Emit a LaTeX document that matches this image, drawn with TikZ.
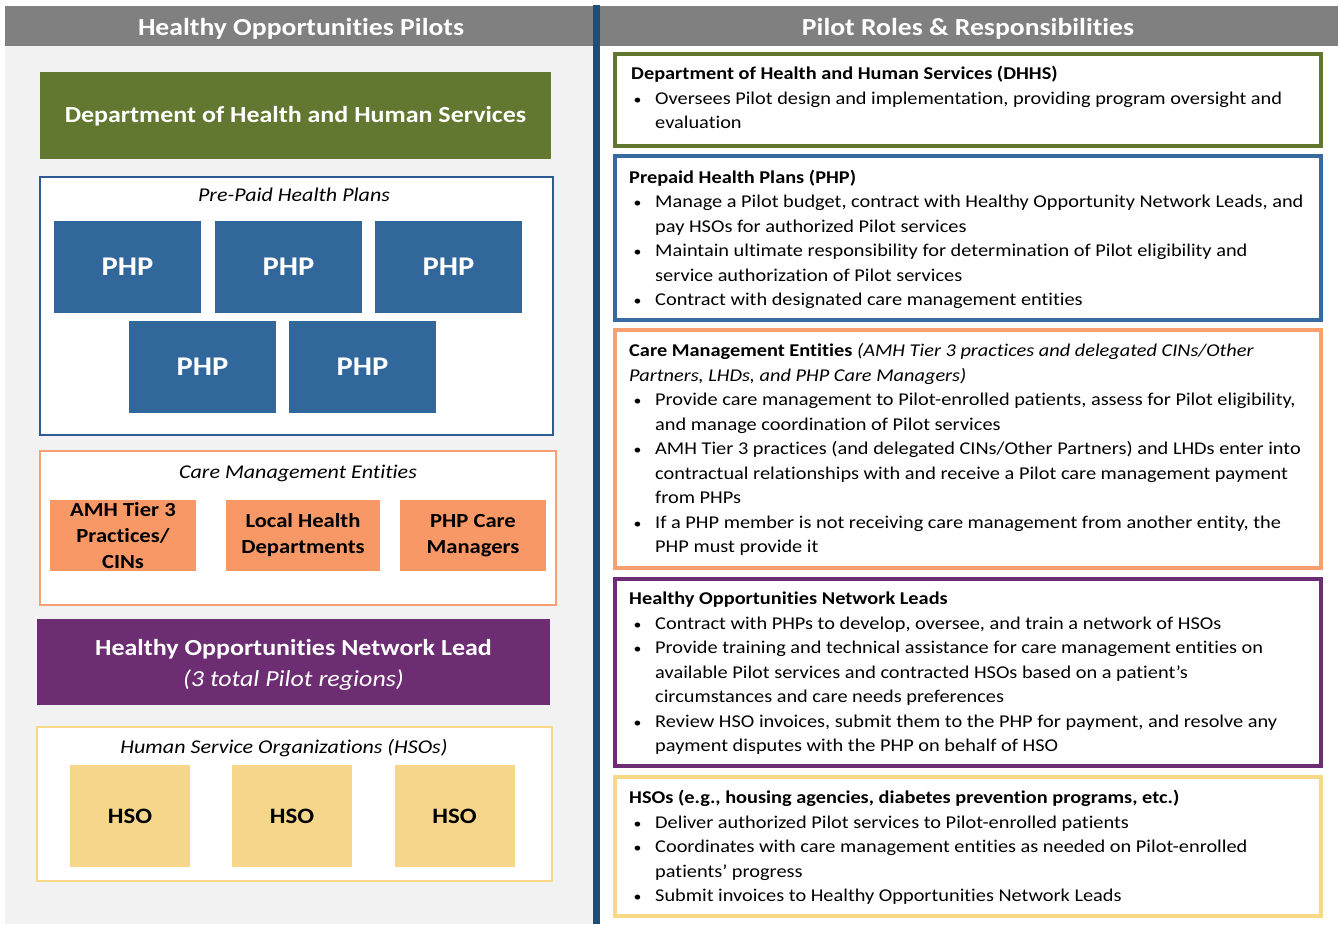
\documentclass[tikz,border=0pt]{standalone}
\usepackage{fontspec}
\setmainfont{Carlito}[FakeStretch=1.13,Ligatures=NoCommon]
\definecolor{hdrgray}{RGB}{128,128,128}
\definecolor{panelbg}{RGB}{242,242,242}
\definecolor{divblue}{RGB}{31,78,121}
\definecolor{dgreen}{RGB}{98,119,48}
\definecolor{phpblue}{RGB}{49,103,155}
\definecolor{phpline}{RGB}{46,91,145}
\definecolor{rblue}{RGB}{55,107,160}
\definecolor{orangef}{RGB}{247,152,102}
\definecolor{orangel}{RGB}{248,160,112}
\definecolor{purp}{RGB}{108,45,114}
\definecolor{yellf}{RGB}{246,214,138}
\definecolor{yelll}{RGB}{246,216,134}
\begin{document}
\begin{tikzpicture}[x=1pt,y=-1pt,
  hdr/.style={text=white,font=\fontsize{24.5}{28}\selectfont\bfseries,inner sep=0pt},
  solid box/.style={inner sep=0pt,draw=none,align=center},
  outer box/.style={inner sep=0pt,fill=white,line width=2pt},
  rbox/.style={inner sep=0pt,fill=white,line width=4pt,minimum width=706pt},
  grpcap/.style={font=\fontsize{19.5}{23}\selectfont\itshape,inner sep=0pt},
  phpbox/.style={solid box,fill=phpblue,minimum width=147pt,minimum height=92pt,text=white,font=\fontsize{27}{30}\selectfont\bfseries,text height=17.4pt,text depth=0pt},
  cmebox/.style={solid box,fill=orangef,minimum height=71pt,font=\fontsize{20}{26}\selectfont\bfseries},
  hsobox/.style={solid box,fill=yellf,minimum width=120pt,minimum height=102pt,font=\fontsize{22}{26}\selectfont\bfseries,text height=14.2pt,text depth=0pt},
  ttl/.style={anchor=base west,inner sep=0pt,font=\fontsize{18}{22}\selectfont\bfseries},
  txt/.style={anchor=base west,inner sep=0pt,font=\fontsize{18}{22}\selectfont},
  bul/.style={anchor=base west,inner sep=0pt,font=\fontsize{14}{22}\selectfont}
]
\useasboundingbox (0,0) rectangle (1338,924);
\fill[white] (0,0) rectangle (1338,924);
% backgrounds
\fill[panelbg] (5,46) rectangle (593,924);
\fill[hdrgray] (5,6) rectangle (1338,46);
\fill[divblue] (593,5) rectangle (600,924);
\node[hdr] (hl) at (301,28.5) {Healthy Opportunities Pilots};
\node[hdr] (hr) at (968,28.5) {Pilot Roles \& Responsibilities};

% left: DHHS
\node[solid box,fill=dgreen,minimum width=511pt,minimum height=87pt,text=white,font=\fontsize{23}{26}\selectfont\bfseries,text height=14.8pt,text depth=0pt] (ldhhs) at (295.5,115.5) {Department of Health and Human Services};

% PHP group
\node[outer box,draw=phpline,minimum width=513pt,minimum height=258pt] (lphp) at (296.5,306) {};
\node[grpcap] (lphpcap) at (294,194.5) {Pre-Paid Health Plans};
\node[phpbox] (p1) at (127.5,267) {PHP};
\node[phpbox] (p2) at (288.5,267) {PHP};
\node[phpbox] (p3) at (448.5,267) {PHP};
\node[phpbox] (p4) at (202.5,366.5) {PHP};
\node[phpbox] (p5) at (362.5,366.5) {PHP};

% CME group
\node[outer box,draw=orangel,minimum width=516pt,minimum height=154pt] (lcme) at (298,528) {};
\node[grpcap] (lcmecap) at (298,473) {Care Management Entities};
\node[cmebox,minimum width=146pt] (c1) at (123,535.5) {AMH Tier 3\\Practices/\\CINs};
\node[cmebox,minimum width=154pt] (c2) at (303,535.5) {Local Health\\Departments};
\node[cmebox,minimum width=146pt] (c3) at (473,535.5) {PHP Care\\Managers};

% Network lead
\node[solid box,fill=purp,minimum width=513pt,minimum height=86pt] (lhon) at (293.5,662) {};
\node[solid box,text=white,font=\fontsize{23}{31}\selectfont] (lhont) at (293.5,665) {\textbf{Healthy Opportunities Network Lead}\\\textit{(3 total Pilot regions)}};

% HSO group
\node[outer box,draw=yelll,minimum width=515pt,minimum height=154pt] (lhso) at (294.5,804) {};
\node[grpcap] (lhsocap) at (284,748.5) {Human Service Organizations (HSOs)};
\node[hsobox] (h1) at (130,816) {HSO};
\node[hsobox] (h2) at (292,816) {HSO};
\node[hsobox] (h3) at (454.5,816) {HSO};

% right boxes
\node[rbox,draw=dgreen,minimum height=92pt] (rdhhs) at (968,100) {};
\node[rbox,draw=rblue,minimum height=164pt] (rphp) at (968,238) {};
\node[rbox,draw=orangel,minimum height=238pt] (rcme) at (968,449) {};
\node[rbox,draw=purp,minimum height=187pt] (rhon) at (968,672.5) {};
\node[rbox,draw=yelll,minimum height=139pt] (rhso) at (968,846.5) {};

% DHHS text
\node[ttl] (a0) at (631,79) {Department of Health and Human Services (DHHS)};
\node[bul] (ab1) at (633.5,104) {•};
\node[txt] (a1) at (655,104) {Oversees Pilot design and implementation, providing program oversight and};
\node[txt] (a2) at (655,128) {evaluation};

% PHP text
\node[ttl] (b0) at (629,183) {Prepaid Health Plans (PHP)};
\node[bul] (bb1) at (633.5,207) {•};
\node[txt] (b1) at (655,207) {Manage a Pilot budget, contract with Healthy Opportunity Network Leads, and};
\node[txt] (b2) at (655,232) {pay HSOs for authorized Pilot services};
\node[bul] (bb3) at (633.5,256) {•};
\node[txt] (b3) at (655,256) {Maintain ultimate responsibility for determination of Pilot eligibility and};
\node[txt] (b4) at (655,281) {service authorization of Pilot services};
\node[bul] (bb5) at (633.5,305) {•};
\node[txt] (b5) at (655,305) {Contract with designated care management entities};

% CME text
\node[ttl] (c0) at (629,356) {Care Management Entities \normalfont\itshape(AMH Tier 3 practices and delegated CINs/Other};
\node[txt,font=\fontsize{18}{22}\selectfont\itshape] (c0b) at (629,381) {Partners, LHDs, and PHP Care Managers)};
\node[bul] (cb1) at (633.5,405) {•};
\node[txt] (ct1) at (655,405) {Provide care management to Pilot-enrolled patients, assess for Pilot eligibility,};
\node[txt] (ct2) at (655,430) {and manage coordination of Pilot services};
\node[bul] (cb3) at (633.5,454) {•};
\node[txt] (ct3) at (655,454) {AMH Tier 3 practices (and delegated CINs/Other Partners) and LHDs enter into};
\node[txt] (ct4) at (655,479) {contractual relationships with and receive a Pilot care management payment};
\node[txt] (ct5) at (655,503) {from PHPs};
\node[bul] (cb6) at (633.5,528) {•};
\node[txt] (ct6) at (655,528) {If a PHP member is not receiving care management from another entity, the};
\node[txt] (ct7) at (655,552) {PHP must provide it};

% HON text
\node[ttl] (d0) at (629,604) {Healthy Opportunities Network Leads};
\node[bul] (db1) at (633.5,629) {•};
\node[txt] (d1) at (655,629) {Contract with PHPs to develop, oversee, and train a network of HSOs};
\node[bul] (db2) at (633.5,653) {•};
\node[txt] (d2) at (655,653) {Provide training and technical assistance for care management entities on};
\node[txt] (d3) at (655,678) {available Pilot services and contracted HSOs based on a patient’s};
\node[txt] (d4) at (655,702) {circumstances and care needs preferences};
\node[bul] (db5) at (633.5,727) {•};
\node[txt] (d5) at (655,727) {Review HSO invoices, submit them to the PHP for payment, and resolve any};
\node[txt] (d6) at (655,751) {payment disputes with the PHP on behalf of HSO};

% HSO text
\node[ttl] (e0) at (629,803) {HSOs (e.g., housing agencies, diabetes prevention programs, etc.)};
\node[bul] (eb1) at (633.5,828) {•};
\node[txt] (e1) at (655,828) {Deliver authorized Pilot services to Pilot-enrolled patients};
\node[bul] (eb2) at (633.5,852) {•};
\node[txt] (e2) at (655,852) {Coordinates with care management entities as needed on Pilot-enrolled};
\node[txt] (e3) at (655,877) {patients’ progress};
\node[bul] (eb4) at (633.5,901) {•};
\node[txt] (e4) at (655,901) {Submit invoices to Healthy Opportunities Network Leads};
\end{tikzpicture}
\end{document}
